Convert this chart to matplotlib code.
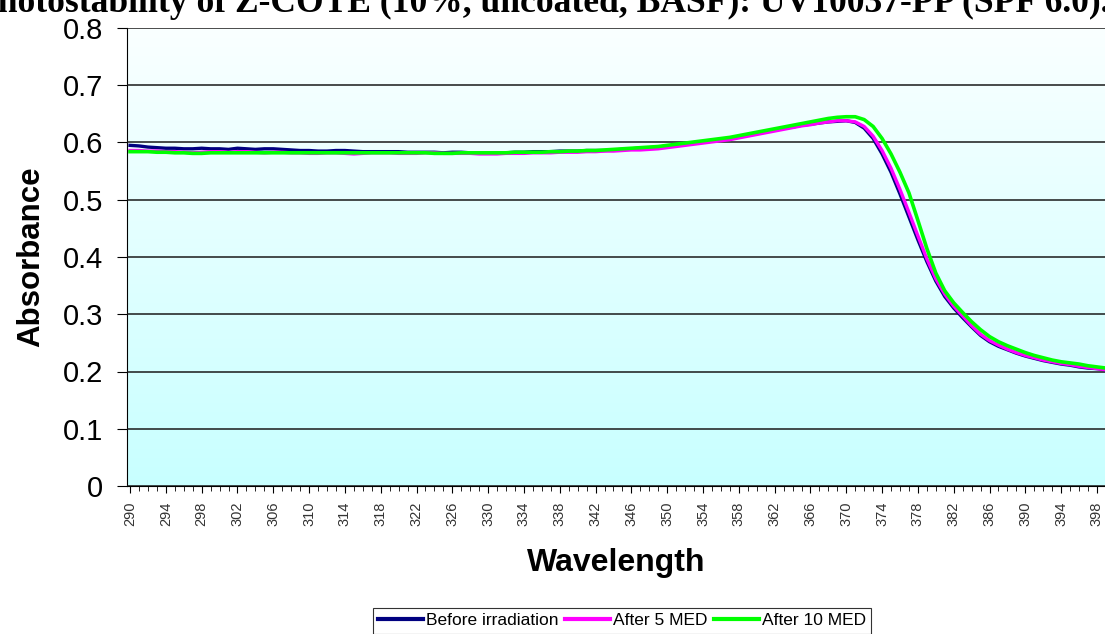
import numpy as np
import matplotlib
matplotlib.use("Agg")
import matplotlib.pyplot as plt
from matplotlib.ticker import MultipleLocator, FixedLocator

wavelength = list(range(290, 400))

before = [
    0.595, 0.594, 0.592, 0.591, 0.590, 0.590, 0.589, 0.589, 0.590, 0.589,
    0.589, 0.588, 0.590, 0.589, 0.588, 0.589, 0.589, 0.588, 0.587, 0.586,
    0.586, 0.585, 0.585, 0.586, 0.586, 0.585, 0.584, 0.584, 0.584, 0.584,
    0.584, 0.583, 0.583, 0.583, 0.583, 0.582, 0.583, 0.583, 0.582, 0.582,
    0.582, 0.582, 0.582, 0.583, 0.583, 0.584, 0.584, 0.584, 0.585, 0.585,
    0.585, 0.586, 0.586, 0.586, 0.587, 0.588, 0.589, 0.590, 0.591, 0.592,
    0.594, 0.595, 0.597, 0.599, 0.601, 0.603, 0.605, 0.607, 0.610, 0.613,
    0.616, 0.619, 0.622, 0.625, 0.627, 0.630, 0.632, 0.634, 0.636, 0.637,
    0.638, 0.635, 0.625, 0.607, 0.580, 0.548, 0.510, 0.470, 0.430, 0.392,
    0.358, 0.331, 0.311, 0.294, 0.278, 0.263, 0.252, 0.244, 0.238, 0.232,
    0.227, 0.223, 0.219, 0.216, 0.213, 0.211, 0.208, 0.206, 0.205, 0.203,
]

after5 = [
    0.586, 0.586, 0.585, 0.585, 0.584, 0.584, 0.583, 0.582, 0.583, 0.584,
    0.584, 0.583, 0.584, 0.584, 0.583, 0.582, 0.583, 0.583, 0.582, 0.582,
    0.581, 0.581, 0.582, 0.582, 0.581, 0.580, 0.581, 0.582, 0.582, 0.582,
    0.581, 0.581, 0.581, 0.582, 0.582, 0.581, 0.581, 0.581, 0.581, 0.580,
    0.580, 0.580, 0.581, 0.581, 0.581, 0.582, 0.582, 0.582, 0.583, 0.583,
    0.583, 0.584, 0.584, 0.585, 0.585, 0.586, 0.587, 0.587, 0.588, 0.589,
    0.591, 0.593, 0.595, 0.597, 0.599, 0.601, 0.603, 0.605, 0.608, 0.611,
    0.614, 0.617, 0.620, 0.623, 0.626, 0.629, 0.631, 0.634, 0.636, 0.638,
    0.638, 0.636, 0.628, 0.611, 0.586, 0.555, 0.518, 0.478, 0.437, 0.397,
    0.362, 0.335, 0.314, 0.297, 0.280, 0.265, 0.254, 0.246, 0.239, 0.233,
    0.228, 0.224, 0.220, 0.217, 0.214, 0.212, 0.209, 0.207, 0.205, 0.203,
]

after10 = [
    0.584, 0.584, 0.584, 0.583, 0.583, 0.582, 0.582, 0.581, 0.581, 0.582,
    0.582, 0.582, 0.582, 0.582, 0.582, 0.582, 0.582, 0.582, 0.582, 0.582,
    0.582, 0.582, 0.582, 0.582, 0.582, 0.582, 0.582, 0.582, 0.582, 0.582,
    0.582, 0.582, 0.582, 0.582, 0.581, 0.581, 0.581, 0.582, 0.582, 0.582,
    0.582, 0.582, 0.582, 0.583, 0.583, 0.583, 0.583, 0.584, 0.584, 0.585,
    0.585, 0.586, 0.586, 0.587, 0.588, 0.589, 0.590, 0.591, 0.592, 0.593,
    0.595, 0.597, 0.599, 0.601, 0.603, 0.605, 0.607, 0.609, 0.612, 0.615,
    0.618, 0.621, 0.624, 0.627, 0.630, 0.633, 0.636, 0.639, 0.642, 0.644,
    0.645, 0.645, 0.640, 0.628, 0.607, 0.580, 0.548, 0.512, 0.464, 0.415,
    0.372, 0.341, 0.320, 0.303, 0.287, 0.273, 0.261, 0.252, 0.245, 0.239,
    0.233, 0.228, 0.224, 0.220, 0.217, 0.215, 0.213, 0.210, 0.208, 0.206,
]

xticks = list(range(290, 399, 4))
title = "Photostability of Z-COTE (10%, uncoated, BASF): UV10037-PP (SPF 6.0)."

plt.rcParams['font.family'] = ['Liberation Sans', 'DejaVu Sans']

fig = plt.figure(figsize=(11.05, 6.34), dpi=100)
ax = fig.add_axes([127 / 1105, 1 - 486 / 634, 1 - 127 / 1105, 458 / 634])

# gradient fill of the plot area, near white at top, pale cyan at bottom
grad = np.linspace(0, 1, 256).reshape(-1, 1)
top = np.array([250, 255, 255]) / 255.0
bot = np.array([200, 255, 255]) / 255.0
img = top + (bot - top) * grad[:, :, None]
ax.imshow(img, aspect='auto', extent=[289.66, 398.9, 0.0, 0.8],
          origin='upper', zorder=0)

ax.plot(wavelength, before, color='#000080', lw=2.4, label='Before irradiation', zorder=3)
ax.plot(wavelength, after5, color='#ff00ff', lw=2.4, label='After 5 MED', zorder=4)
ax.plot(wavelength, after10, color='#00ff00', lw=2.6, label='After 10 MED', zorder=5)

ax.set_xlim(289.66, 398.9)
ax.set_ylim(0, 0.8)
ax.xaxis.set_major_locator(FixedLocator(xticks))
ax.xaxis.set_minor_locator(MultipleLocator(1))
ax.set_yticks(np.arange(0, 0.81, 0.1))
ax.set_yticklabels(['0', '0.1', '0.2', '0.3', '0.4', '0.5', '0.6', '0.7', '0.8'], fontsize=21)
ax.tick_params(axis='x', which='major', labelsize=10.5, rotation=90, length=5,
               labelcolor='#333333', pad=6)
ax.tick_params(axis='x', which='minor', length=3.5)
ax.tick_params(axis='y', length=7, pad=10)
ax.grid(axis='y', color='#1a1a1a', lw=1.1, zorder=1)
ax.set_axisbelow(False)
for s in ['top', 'right']:
    ax.spines[s].set_visible(False)

ax.set_ylabel('Absorbance', fontsize=22.5, fontweight='bold', labelpad=12)
ax.set_xlabel('Wavelength', fontsize=23, fontweight='bold', labelpad=16)

# title is cut off by the top edge in the source picture
fig.text(-0.022, 0.981, title, fontsize=25.6, fontweight='bold',
         family=['Liberation Serif', 'DejaVu Serif'], ha='left', va='baseline')

leg = fig.legend(loc='lower center', bbox_to_anchor=(622 / 1105, -0.005), ncol=3,
                 fontsize=12.5, frameon=True, fancybox=False, edgecolor='black',
                 handlelength=2.6, handletextpad=0.15, columnspacing=0.4,
                 borderpad=0.3, borderaxespad=0.2)
leg.get_frame().set_linewidth(0.8)
for line in leg.get_lines():
    line.set_linewidth(3)

fig.savefig('out.png', dpi=100)
